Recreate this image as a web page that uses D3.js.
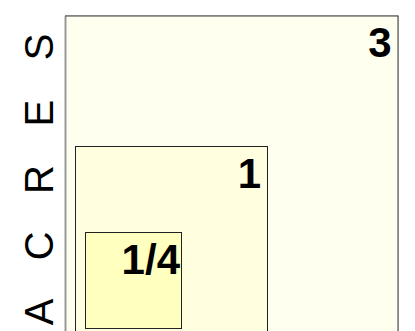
<!DOCTYPE html>
<html>
<head>
<meta charset="utf-8">
<script src="https://cdn.jsdelivr.net/npm/d3@7"></script>
<style>
  body { margin: 0; background: #fff; }
  svg { display: block; font-family: "Liberation Sans", Arial, sans-serif; }
</style>
</head>
<body>
<div class="chart-container"></div>
<script>
const w = 415,
      h = 331;

// data
const labels = ['3', '1', '1/4'];
const acres = [3, 1, 0.25];
const fills = ['#fffff0', '#ffffe0', '#ffffc0'];
const axisLetters = ['A', 'C', 'R', 'E', 'S'];

const svg = d3
  .select('.chart-container')
  .append('svg')
  .attr('width', w)
  .attr('height', h);

// side length of a square is sqrt(area)
const side = d3.scaleLinear()
  .domain([0, 1])
  .range([0, 192]);

const left = 65,
      bottom = 348,
      inset = 10;

const squares = acres.map((a, i) => ({
  label: labels[i],
  fill: fills[i],
  x: left + i * inset,
  y: bottom - i * inset - side(Math.sqrt(a)),
  s: side(Math.sqrt(a))
}));

const g = svg.selectAll('.sq')
  .data(squares)
  .enter()
  .append('g')
  .attr('class', 'sq');

g.append('rect')
  .attr('x', d => d.x + 0.5)
  .attr('y', d => d.y + 0.5)
  .attr('width', d => d.s)
  .attr('height', d => d.s)
  .style('fill', d => d.fill)
  .style('stroke', '#222')
  .style('stroke-width', 1);

// grey edge on the big one
svg.append('line')
  .attr('x1', squares[0].x + 0.5)
  .attr('x2', squares[0].x + 0.5)
  .attr('y1', squares[0].y + 1)
  .attr('y2', h)
  .style('stroke', '#999')
  .style('stroke-width', 2);

g.append('text')
  .attr('x', d => d.x + d.s - (d.label.length > 1 ? 1 : 6))
  .attr('y', d => d.y + 42)
  .style('text-anchor', 'end')
  .style('font-size', '42px')
  .style('font-weight', 'bold')
  .style('fill', '#000')
  .text(d => d.label);

// vertical "A C R E S" label
const yLetters = d3.scalePoint()
  .domain(axisLetters)
  .range([312, 47]);

svg.selectAll('.axis-letter')
  .data(axisLetters)
  .enter()
  .append('text')
  .attr('class', 'axis-letter')
  .attr('transform', d => `translate(39, ${yLetters(d)}) rotate(-90)`)
  .attr('dy', '0.36em')
  .style('text-anchor', 'middle')
  .style('font-size', '40px')
  .style('fill', '#000')
  .text(d => d);
</script>
</body>
</html>
